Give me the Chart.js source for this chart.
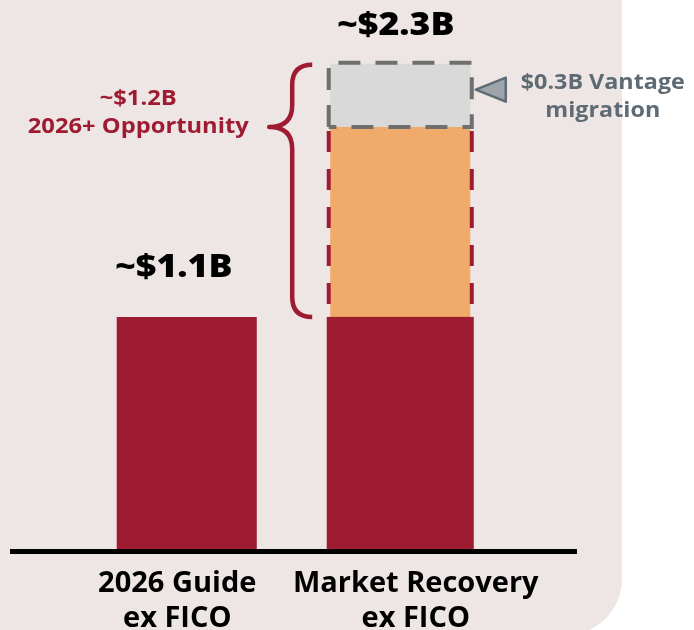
<!DOCTYPE html>
<html>
<head>
<meta charset="utf-8">
<script src="https://cdn.jsdelivr.net/npm/chart.js"></script>
<style>
  html, body { margin: 0; padding: 0; background: #fff; }
  #wrap { position: relative; width: 694px; height: 630px; overflow: hidden; }
  /* the pink panel with the rounded corner bottom right */
  #panel { position: absolute; left: 0; top: -20px; width: 622px; height: 655px; background: #eee6e5; border-bottom-right-radius: 56px; }
  canvas { position: absolute; left: 0; top: 0; }
</style>
</head>
<body>
<div id="wrap"><div id="panel"></div><canvas id="chart" width="694" height="630"></canvas></div>
<script>
const categories = [["2026 Guide", "ex FICO"], ["Market Recovery", "ex FICO"]];
const baseValues = [1.1, 1.1];
const recoveryValues = [0, 0.9];
const vantageValues = [0, 0.3];
const totalLabels = ["~$1.1B", "~$2.3B"];
const opportunityLabel = ["~$1.2B", "2026+ Opportunity"];
const vantageLabel = ["$0.3B Vantage", "migration"];

const RED = "#9e1b32";
const ORANGE = "#f0aa69";
const LIGHTGREY = "#d9d9d9";
const SLATE = "#5f6b74";
const FONT = "'Open Sans', 'Noto Sans', sans-serif";

// the slide text is a bit wider than open sans, so stretch it sideways
function wideText(ctx, text, x, y, sx) {
  ctx.save();
  ctx.translate(x, y);
  ctx.scale(sx, 1);
  ctx.fillText(text, 0, 0);
  ctx.restore();
}

// everything that is not a plain bar gets drawn here (dashes, brace, labels)
const overlay = {
  id: "overlay",
  afterDatasetsDraw(chart) {
    const ctx = chart.ctx;
    const xs = chart.scales.x, ys = chart.scales.y;
    const area = chart.chartArea;
    ctx.save();

    // thick baseline, wider than the plot area
    ctx.fillStyle = "#000";
    ctx.fillRect(area.left - 70, area.bottom, area.right - area.left + 140, 5);

    const base = chart.getDatasetMeta(0).data[1];
    const rec = chart.getDatasetMeta(1).data[1];
    const van = chart.getDatasetMeta(2).data[1];
    const barLeft = van.x - van.width / 2;
    const l = barLeft - 1.5, r = van.x + van.width / 2 + 1.5;

    // second bar's red base sits a touch wider than the dashed part
    ctx.fillStyle = RED;
    ctx.fillRect(l - 2, base.y, r - l + 4, base.base - base.y);

    // red dashed sides round the recovery part
    ctx.lineWidth = 4;
    ctx.setLineDash([21, 17]);
    ctx.strokeStyle = RED;
    ctx.beginPath();
    ctx.moveTo(l, rec.y + 4); ctx.lineTo(l, rec.base);
    ctx.moveTo(r, rec.y + 4); ctx.lineTo(r, rec.base);
    ctx.stroke();

    // grey dashed box round the vantage part
    ctx.setLineDash([22, 15]);
    ctx.strokeStyle = "#6f6f6f";
    ctx.beginPath();
    ctx.moveTo(l, van.base);
    ctx.lineTo(l, van.y - 1);
    ctx.lineTo(r, van.y - 1);
    ctx.lineTo(r, van.base);
    ctx.lineTo(l, van.base);
    ctx.stroke();
    ctx.setLineDash([]);

    // curly brace for the opportunity
    const yTop = ys.getPixelForValue(baseValues[1] + recoveryValues[1] + vantageValues[1]);
    const yBot = ys.getPixelForValue(baseValues[1]);
    const yTip = ys.getPixelForValue(baseValues[1] + recoveryValues[1]);
    const xEnd = barLeft - 18, xV = barLeft - 38, xTip = barLeft - 61;
    ctx.strokeStyle = RED;
    ctx.lineWidth = 4.5;
    ctx.lineJoin = "round";
    ctx.beginPath();
    ctx.moveTo(xEnd, yTop + 1);
    ctx.quadraticCurveTo(xV, yTop + 1, xV, yTop + 21);
    ctx.lineTo(xV, yTip - 22);
    ctx.quadraticCurveTo(xV, yTip, xTip, yTip);
    ctx.quadraticCurveTo(xV, yTip, xV, yTip + 22);
    ctx.lineTo(xV, yBot - 20);
    ctx.quadraticCurveTo(xV, yBot, xEnd, yBot);
    ctx.stroke();

    ctx.textAlign = "center";
    ctx.textBaseline = "alphabetic";
    ctx.fillStyle = RED;
    ctx.font = "bold 21px " + FONT;
    wideText(ctx, opportunityLabel[0], xTip - 131, yTip - 22, 1.13);
    wideText(ctx, opportunityLabel[1], xTip - 131, yTip + 6, 1.13);

    // arrow + vantage note
    const tipX = r + 4, tipY = van.y + 26;
    ctx.fillStyle = "#9da5aa";
    ctx.strokeStyle = SLATE;
    ctx.lineWidth = 2.5;
    ctx.beginPath();
    ctx.moveTo(tipX, tipY);
    ctx.lineTo(tipX + 30, tipY - 12);
    ctx.lineTo(tipX + 30, tipY + 12);
    ctx.closePath();
    ctx.fill();
    ctx.stroke();
    ctx.fillStyle = SLATE;
    ctx.font = "bold 22px " + FONT;
    wideText(ctx, vantageLabel[0], tipX + 127, van.y + 25, 1.06);
    wideText(ctx, vantageLabel[1], tipX + 127, van.y + 53, 1.06);

    // totals above the bars
    const shiftX = [-13, -4.5], shiftY = [40, 29];
    ctx.fillStyle = "#000";
    ctx.font = "800 31px " + FONT;
    totalLabels.forEach((t, i) => {
      const total = baseValues[i] + recoveryValues[i] + vantageValues[i];
      wideText(ctx, t, xs.getPixelForValue(i) + shiftX[i], ys.getPixelForValue(total) - shiftY[i], 1.15);
    });

    // category names under the baseline
    const catShift = [-9.5, 15.5];
    ctx.font = "bold 29px " + FONT;
    categories.forEach((lines, i) => {
      lines.forEach((line, j) => {
        ctx.fillText(line, xs.getPixelForValue(i) + catShift[i], area.bottom + 43 + j * 35);
      });
    });
    ctx.restore();
  }
};

new Chart(document.getElementById("chart"), {
  type: "bar",
  data: {
    labels: categories,
    datasets: [
      { label: "Base", data: baseValues, backgroundColor: RED },
      { label: "Recovery", data: recoveryValues, backgroundColor: ORANGE },
      { label: "Vantage", data: vantageValues, backgroundColor: LIGHTGREY }
    ]
  },
  options: {
    responsive: false,
    animation: false,
    devicePixelRatio: 1,
    layout: { padding: { left: 80, right: 187, top: 21.5, bottom: 81 } },
    datasets: { bar: { barPercentage: 0.656, categoryPercentage: 1, borderWidth: 0 } },
    plugins: { legend: { display: false }, tooltip: { enabled: false } },
    scales: {
      x: { stacked: true, display: false },
      y: { stacked: true, display: false, min: 0, max: 2.5 }
    }
  },
  plugins: [overlay]
});
</script>
</body>
</html>
